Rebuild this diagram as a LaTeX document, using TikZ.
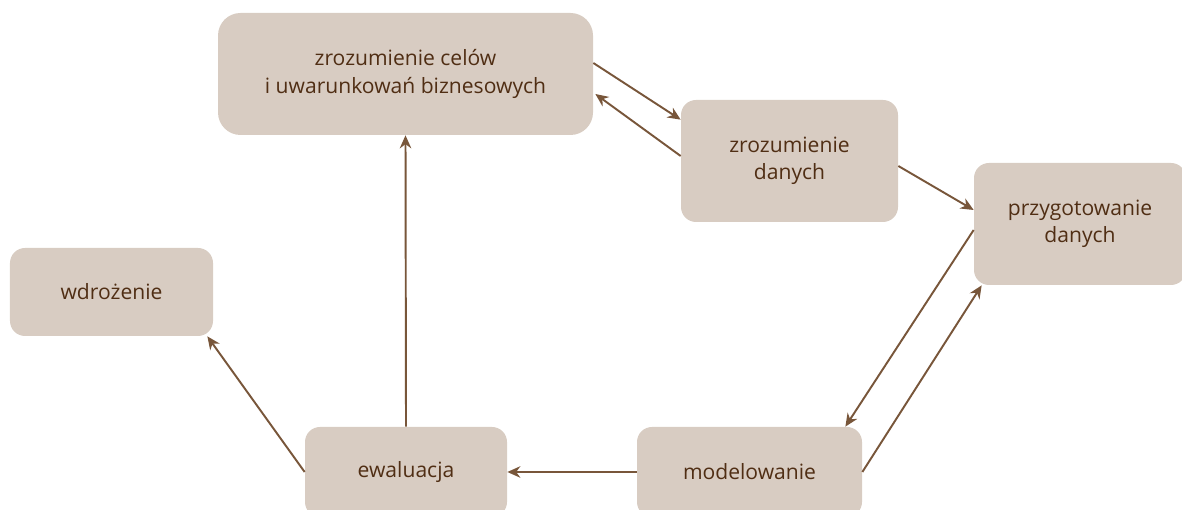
\documentclass[tikz,border=0pt]{standalone}
\usepackage{fontspec}
\setmainfont{Open Sans}
\definecolor{BoxFill}{RGB}{216, 204, 194}
\definecolor{TextBrown}{RGB}{80, 46, 20}
\definecolor{ArrowBrown}{RGB}{120, 86, 58}
\usepackage{tikz}
\usetikzlibrary{arrows.meta, positioning, calc}

\begin{document}
\begin{tikzpicture}[
    every node/.style={font=\fontsize{12}{15.5}\selectfont, align=center, text=TextBrown},
    phase/.style={fill=BoxFill, rounded corners=0.3cm, inner sep=0pt},
    flow/.style={-{Stealth[length=2.6mm, width=2.3mm]}, ArrowBrown, line width=1.1pt}
]
\useasboundingbox (0,0) rectangle (23.64,10.2);
\node[phase, rounded corners=0.45cm, minimum width=7.5cm, minimum height=2.44cm] (biz) at (8.11,8.72) {zrozumienie celów\\i uwarunkowań biznesowych};
\node[phase, minimum width=4.34cm, minimum height=2.44cm] (dane) at (15.79,6.98) {zrozumienie\\danych};
\node[phase, minimum width=4.24cm, minimum height=2.44cm] (przyg) at (21.6,5.72) {przygotowanie\\danych};
\node[phase, minimum width=4.06cm, minimum height=1.76cm] (wdroz) at (2.23,4.36) {wdrożenie};
\node[phase, minimum width=4.04cm, minimum height=1.8cm] (ewal) at (8.12,0.76) {ewaluacja};
\node[phase, minimum width=4.5cm, minimum height=1.8cm] (model) at (14.99,0.76) {modelowanie};
\draw[flow] ([yshift=0.22cm]biz.east) -- ([yshift=-0.4cm]dane.north west);
\draw[flow] ([yshift=0.1cm]dane.west) -- ([xshift=0.04cm, yshift=-0.4cm]biz.east);
\draw[flow] ([yshift=-0.1cm]dane.east) -- ([yshift=0.28cm]przyg.west);
\draw[flow] ([yshift=-0.12cm]przyg.west) -- ([xshift=-0.34cm]model.north east);
\draw[flow] (model.east) -- ([xshift=0.16cm]przyg.south west);
\draw[flow] (model.west) -- (ewal.east);
\draw[flow] (ewal.north) -- (biz.south);
\draw[flow] (ewal.west) -- ([xshift=-0.12cm]wdroz.south east);
\end{tikzpicture}
\end{document}
